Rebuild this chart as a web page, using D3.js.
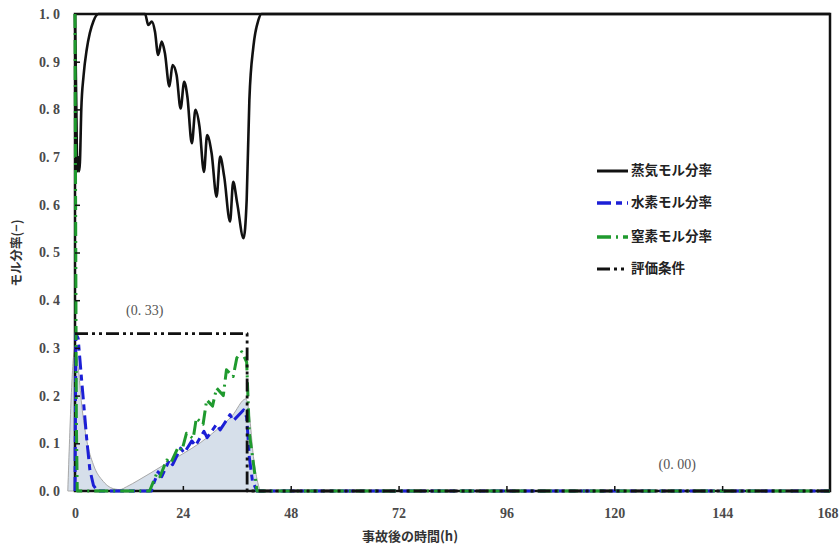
<!DOCTYPE html>
<html><head><meta charset="utf-8">
<script src="https://cdn.jsdelivr.net/npm/d3@7"></script>
<style>body{margin:0;background:#fff}svg{display:block}</style>
</head><body>
<svg id="c" width="839" height="547"></svg>
<script>
// ---- data ----
const xTicks = [0, 24, 48, 72, 96, 120, 144, 168];
const yTicks = [0, 0.1, 0.2, 0.3, 0.4, 0.5, 0.6, 0.7, 0.8, 0.9, 1.0];
const yTickLabels = ["0. 0","0. 1","0. 2","0. 3","0. 4","0. 5","0. 6","0. 7","0. 8","0. 9","1. 0"];
const legendLabels = ["蒸気モル分率", "水素モル分率", "窒素モル分率", "評価条件"];

const steamT = [0,0.3,0.5,0.7,0.9,1.1,1.4,1.9,2.6,3.3,4.1,5.2,15.6,16.3,17.1,17.8,18.5,19.3,20,21,21.7,22.6,23.5,24.3,25,26,26.8,27.7,28.7,29.4,30.4,31.5,32.3,33.2,34.5,35.2,36.1,37.5,38.2,38.8,39.7,40.8,41.5,168];
const steamV = [1.0,0.80,0.67,0.70,0.67,0.69,0.80,0.87,0.925,0.96,0.985,1.0,1.0,0.977,0.984,0.963,0.914,0.942,0.918,0.848,0.893,0.872,0.802,0.858,0.827,0.729,0.799,0.764,0.669,0.746,0.708,0.617,0.701,0.659,0.565,0.648,0.603,0.530,0.610,0.820,0.932,0.987,1.0,1.0];

const h2T = [0,0.2,0.7,1.5,2.6,3.3,4.1,5,17,17.4,18.5,19.3,21,21.7,23.5,24.3,26,26.8,28.7,29.4,31.5,32.3,34.5,35.2,37.5,38.2,38.8,39.5,40.5,168];
const h2V = [0,0.33,0.32,0.23,0.11,0.045,0.012,0,0,0.013,0.04,0.03,0.065,0.055,0.09,0.08,0.105,0.095,0.125,0.112,0.14,0.128,0.16,0.147,0.17,0.155,0.07,0.02,0,0];

const n2T = [0,0.1,0.3,0.5,16.6,18.2,18.9,20.4,21.3,23,23.8,24.8,26.3,27,28.5,29.3,30.6,31.5,33,33.7,35.2,36,37.1,38.2,38.8,39.7,40.5,168];
const n2V = [1.0,0.7,0.15,0,0,0.037,0.03,0.065,0.058,0.093,0.085,0.121,0.11,0.153,0.14,0.191,0.178,0.216,0.2,0.254,0.24,0.279,0.292,0.27,0.12,0.058,0,0];

const evalT = [0, 38.3, 38.3, 168];
const evalV = [0.33, 0.33, 0, 0];

const shadeT = [-1.6,0,0.7,1.5,2.6,4.1,6.3,8.9,10,11.5,14,16.7,20,24,28,31.5,35,38,38.8,39.7,40.5,41.2];
const shadeV = [0,0.30,0.26,0.18,0.107,0.055,0.02,0.004,0.003,0.009,0.022,0.037,0.056,0.078,0.102,0.128,0.158,0.193,0.16,0.072,0.025,0];

const notes = [{t:15.5, v:0.375, text:"(0. 33)"}, {t:134, v:0.052, text:"(0. 00)"}];

// ---- layout ----
const L = 75, R = 830, T = 14, B = 491;
const x = d3.scaleLinear().domain([0,168]).range([L,R]);
const y = d3.scaleLinear().domain([0,1]).range([B,T]);
const svg = d3.select("#c");
const zip = (a,b) => a.map((t,i)=>[t,b[i]]);

// shaded band
svg.append("path")
  .attr("d", d3.area().x(d=>x(d[0])).y0(y(0)).y1(d=>y(d[1])).curve(d3.curveMonotoneX)(zip(shadeT,shadeV)))
  .attr("fill","#d6dfea").attr("stroke","#a8a8a8").attr("stroke-width",1);

const line = d3.line().x(d=>x(d[0])).y(d=>y(d[1]));
const series = [
  {t:steamT, v:steamV, color:"#111", w:2.6, dash:null, curve:d3.curveMonotoneX},
  {t:h2T, v:h2V, color:"#1c1fd6", w:3, dash:"14,5,6,5", curve:d3.curveLinear},
  {t:n2T, v:n2V, color:"#1f9a2e", w:3, dash:"14,5,2,5", curve:d3.curveLinear},
  {t:evalT, v:evalV, color:"#111", w:2.8, dash:"13,4,3,4,3,4", curve:d3.curveLinear}
];

// frame
svg.append("rect").attr("x",L).attr("y",T).attr("width",R-L).attr("height",B-T)
  .attr("fill","none").attr("stroke","#111").attr("stroke-width",2.5);

series.forEach(s=>{
  svg.append("path").attr("d", line.curve(s.curve)(zip(s.t,s.v)))
    .attr("fill","none").attr("stroke",s.color).attr("stroke-width",s.w)
    .attr("stroke-dasharray",s.dash).attr("stroke-linejoin","round");
});

// axes with inward ticks
const yAxis = d3.axisLeft(y).tickValues(yTicks).tickSize(-5).tickPadding(15)
  .tickFormat((d,i)=>yTickLabels[i]);
const gy = svg.append("g").attr("transform",`translate(${L},0)`).call(yAxis);
const xAxis = d3.axisBottom(x).tickValues(xTicks).tickSize(-5).tickPadding(17);
const gx = svg.append("g").attr("transform",`translate(0,${B})`).call(xAxis);
[gy,gx].forEach(g=>{
  g.select(".domain").remove();
  g.selectAll(".tick line").attr("stroke","#111").attr("stroke-width",1.5);
  g.selectAll(".tick text").attr("font-family","Liberation Serif, DejaVu Serif, serif")
    .attr("font-weight","bold").attr("font-size",14).attr("fill","#4a4a4a");
});
gy.selectAll(".tick").filter(d=>d===0||d===1).select("line").remove();
gx.selectAll(".tick").filter(d=>d===0||d===168).select("line").remove();
gx.selectAll(".tick").filter(d=>d===168).select("text").attr("text-anchor","end").attr("dx",8);

// annotations
notes.forEach(n=>{
  svg.append("text").attr("x",x(n.t)).attr("y",y(n.v)).attr("text-anchor","middle")
    .attr("dominant-baseline","middle").attr("font-family","Liberation Serif, serif")
    .attr("font-size",14).attr("fill","#555").text(n.text);
});

// axis titles
svg.append("text").attr("transform","translate(18,253) rotate(-90)").attr("text-anchor","middle")
  .attr("dominant-baseline","middle").attr("font-family","Noto Sans CJK JP").attr("font-weight","bold")
  .attr("font-size",12.5).attr("fill","#333").text("モル分率(−)");
svg.append("text").attr("x",410).attr("y",537).attr("text-anchor","middle")
  .attr("dominant-baseline","middle").attr("font-family","Noto Sans CJK JP").attr("font-weight","bold")
  .attr("font-size",13).attr("fill","#333").text("事故後の時間(h)");

// legend
const lg = svg.append("g");
const rowsY = [171, 203, 237, 269];
series.forEach((s,i)=>{
  lg.append("line").attr("x1",597).attr("x2",628).attr("y1",rowsY[i]).attr("y2",rowsY[i])
    .attr("stroke",s.color).attr("stroke-width",s.w+0.4).attr("stroke-dasharray",s.dash);
  lg.append("text").attr("x",631).attr("y",rowsY[i]).attr("dominant-baseline","middle")
    .attr("font-family","Noto Sans CJK JP").attr("font-weight","bold").attr("font-size",13.5)
    .attr("fill","#222").text(legendLabels[i]);
});
</script>
</body></html>
